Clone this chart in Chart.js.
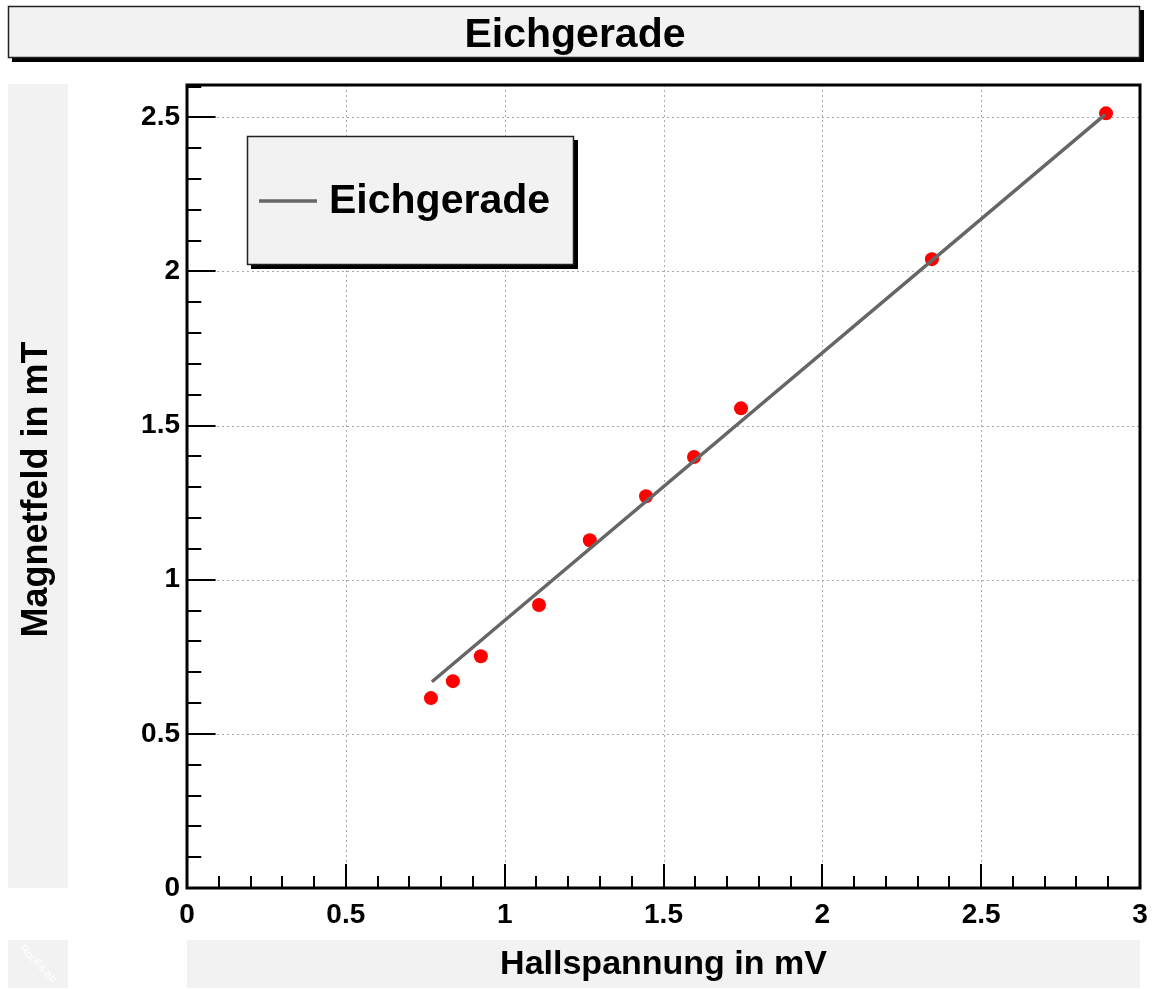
<!DOCTYPE html>
<html>
<head>
<meta charset="utf-8">
<script src="https://cdn.jsdelivr.net/npm/chart.js@4/dist/chart.umd.min.js"></script>
<style>
  html, body { margin: 0; padding: 0; background: #ffffff; }
  #wrap { width: 1152px; height: 989px; position: relative; }
</style>
</head>
<body>
<div id="wrap"><canvas id="c" width="1152" height="989"></canvas></div>
<script>
// ---- data ----
const hallX  = [0.768, 0.837, 0.925, 1.108, 1.268, 1.445, 1.596, 1.744, 2.345, 2.893];
const fieldY = [0.616, 0.671, 0.752, 0.918, 1.128, 1.271, 1.398, 1.556, 2.040, 2.513];
const fitX = [0.771, 2.890];
const fitY = [0.669, 2.509];
const xTicks = [0, 0.5, 1, 1.5, 2, 2.5, 3];
const yTicks = [0, 0.5, 1, 1.5, 2, 2.5];
const xMinorStep = 0.1;
const yMinorStep = 0.1;
const titleText = 'Eichgerade';
const legendText = 'Eichgerade';
const xTitle = 'Hallspannung in mV';
const yTitle = 'Magnetfeld in mT';
const watermark = 'RooFiLab';

const FONT = "'Liberation Sans', Arial, Helvetica, sans-serif";
const PANEL = '#f2f2f2';

function fmt(v) { return String(v); }

function boxWithShadow(ctx, x, y, w, h) {
  ctx.save();
  ctx.fillStyle = '#000';
  ctx.fillRect(x + 4, y + 4, w, h);
  ctx.fillStyle = PANEL;
  ctx.fillRect(x, y, w, h);
  ctx.strokeStyle = '#222';
  ctx.lineWidth = 1.5;
  ctx.strokeRect(x + 0.5, y + 0.5, w - 1, h - 1);
  ctx.restore();
}

const rootPlugin = {
  id: 'rootStyle',
  beforeDraw(chart) {
    const ctx = chart.ctx;
    const a = chart.chartArea;
    ctx.save();
    // title box
    boxWithShadow(ctx, 8, 6, 1132, 52);
    ctx.fillStyle = '#000';
    ctx.font = 'bold 41px ' + FONT;
    ctx.textAlign = 'center';
    ctx.textBaseline = 'alphabetic';
    ctx.fillText(titleText, 575, 47);
    // grey axis-title panels
    ctx.fillStyle = PANEL;
    ctx.fillRect(8, a.top - 1, 60, a.bottom - a.top + 1);
    ctx.fillRect(a.left, 940, a.right - a.left, 48);
    ctx.fillRect(8, 940, 60, 48);
    // axis titles
    ctx.fillStyle = '#000';
    ctx.font = 'bold 34px ' + FONT;
    ctx.textAlign = 'center';
    ctx.textBaseline = 'middle';
    ctx.fillText(xTitle, (a.left + a.right) / 2, 965);
    ctx.save();
    ctx.translate(37, (a.top + a.bottom) / 2 + 3);
    ctx.rotate(-Math.PI / 2);
    ctx.font = 'bold 36px ' + FONT;
    ctx.fillText(yTitle, 0, 0);
    ctx.restore();
    // watermark
    ctx.save();
    ctx.translate(38, 964);
    ctx.rotate(Math.PI / 4);
    ctx.fillStyle = '#ffffff';
    ctx.font = '11px ' + FONT;
    ctx.fillText(watermark, 0, 0);
    ctx.restore();
    ctx.restore();
  },
  beforeDatasetsDraw(chart) {
    const ctx = chart.ctx;
    const a = chart.chartArea;
    const xs = chart.scales.x, ys = chart.scales.y;
    ctx.save();
    ctx.strokeStyle = '#aaaaaa';
    ctx.lineWidth = 1;
    ctx.setLineDash([2, 3]);
    xTicks.forEach(v => {
      if (v <= xs.min || v >= xs.max) return;
      const px = Math.round(xs.getPixelForValue(v)) + 0.5;
      ctx.beginPath(); ctx.moveTo(px, a.top); ctx.lineTo(px, a.bottom); ctx.stroke();
    });
    yTicks.forEach(v => {
      if (v <= ys.min || v >= ys.max) return;
      const py = Math.round(ys.getPixelForValue(v)) + 0.5;
      ctx.beginPath(); ctx.moveTo(a.left, py); ctx.lineTo(a.right, py); ctx.stroke();
    });
    ctx.restore();
  },
  afterDatasetsDraw(chart) {
    const ctx = chart.ctx;
    const a = chart.chartArea;
    const xs = chart.scales.x, ys = chart.scales.y;
    const w = a.right - a.left, h = a.bottom - a.top;
    ctx.save();
    // inward ticks
    ctx.strokeStyle = '#000';
    ctx.lineWidth = 2;
    const nx = Math.round((xs.max - xs.min) / xMinorStep);
    for (let i = 0; i <= nx; i++) {
      const v = xs.min + i * xMinorStep;
      const major = xTicks.some(t => Math.abs(t - v) < 1e-6);
      const len = major ? 0.03 * h : 0.015 * h;
      const px = Math.round(xs.getPixelForValue(v));
      ctx.beginPath(); ctx.moveTo(px, a.bottom); ctx.lineTo(px, a.bottom - len); ctx.stroke();
    }
    const ny = Math.floor((ys.max - ys.min) / yMinorStep + 1e-6);
    for (let i = 0; i <= ny; i++) {
      const v = ys.min + i * yMinorStep;
      const major = yTicks.some(t => Math.abs(t - v) < 1e-6);
      const len = major ? 0.03 * w : 0.015 * w;
      const py = Math.round(ys.getPixelForValue(v));
      ctx.beginPath(); ctx.moveTo(a.left, py); ctx.lineTo(a.left + len, py); ctx.stroke();
    }
    // frame
    ctx.lineWidth = 3;
    ctx.strokeRect(a.left, a.top, w, h);
    ctx.restore();
  },
  afterDraw(chart) {
    const ctx = chart.ctx;
    // legend box
    boxWithShadow(ctx, 247, 136, 327, 129);
    ctx.save();
    ctx.strokeStyle = chart.data.datasets[0].borderColor;
    ctx.lineWidth = 3.5;
    ctx.beginPath(); ctx.moveTo(259, 201); ctx.lineTo(317, 201); ctx.stroke();
    ctx.fillStyle = '#000';
    ctx.font = 'bold 41px ' + FONT;
    ctx.textAlign = 'left';
    ctx.textBaseline = 'middle';
    ctx.fillText(legendText, 329, 202);
    ctx.restore();
  }
};

const ctx = document.getElementById('c').getContext('2d');
new Chart(ctx, {
  type: 'scatter',
  data: {
    datasets: [
      {
        type: 'line',
        label: legendText,
        data: fitX.map((x, i) => ({ x: x, y: fitY[i] })),
        borderColor: '#666666',
        borderWidth: 3.5,
        pointRadius: 0,
        fill: false,
        order: 0
      },
      {
        label: 'Messwerte',
        data: hallX.map((x, i) => ({ x: x, y: fieldY[i] })),
        backgroundColor: '#ff0000',
        borderWidth: 0,
        pointRadius: 7,
        pointHoverRadius: 7,
        order: 1
      }
    ]
  },
  plugins: [rootPlugin],
  options: {
    responsive: false,
    animation: false,
    events: [],
    layout: { padding: { top: 85, right: 12, left: 0, bottom: 0 } },
    plugins: { legend: { display: false }, title: { display: false }, tooltip: { enabled: false } },
    scales: {
      x: {
        type: 'linear',
        min: 0, max: 3,
        afterBuildTicks: s => { s.ticks = xTicks.map(v => ({ value: v })); },
        afterFit: s => { s.height = 101; s.paddingLeft = 0; s.paddingRight = 0; },
        grid: { display: false, drawTicks: false },
        border: { display: false },
        ticks: {
          color: '#000', padding: 10, maxRotation: 0, autoSkip: false,
          font: { family: FONT, size: 28, weight: 'bold' },
          callback: v => fmt(v)
        }
      },
      y: {
        type: 'linear',
        min: 0, max: 2.605,
        afterBuildTicks: s => { s.ticks = yTicks.map(v => ({ value: v })); },
        afterFit: s => { s.width = 187; s.paddingTop = 0; s.paddingBottom = 0; },
        grid: { display: false, drawTicks: false },
        border: { display: false },
        ticks: {
          color: '#000', padding: 7, autoSkip: false,
          font: { family: FONT, size: 28, weight: 'bold' },
          callback: v => fmt(v)
        }
      }
    }
  }
});
</script>
</body>
</html>
